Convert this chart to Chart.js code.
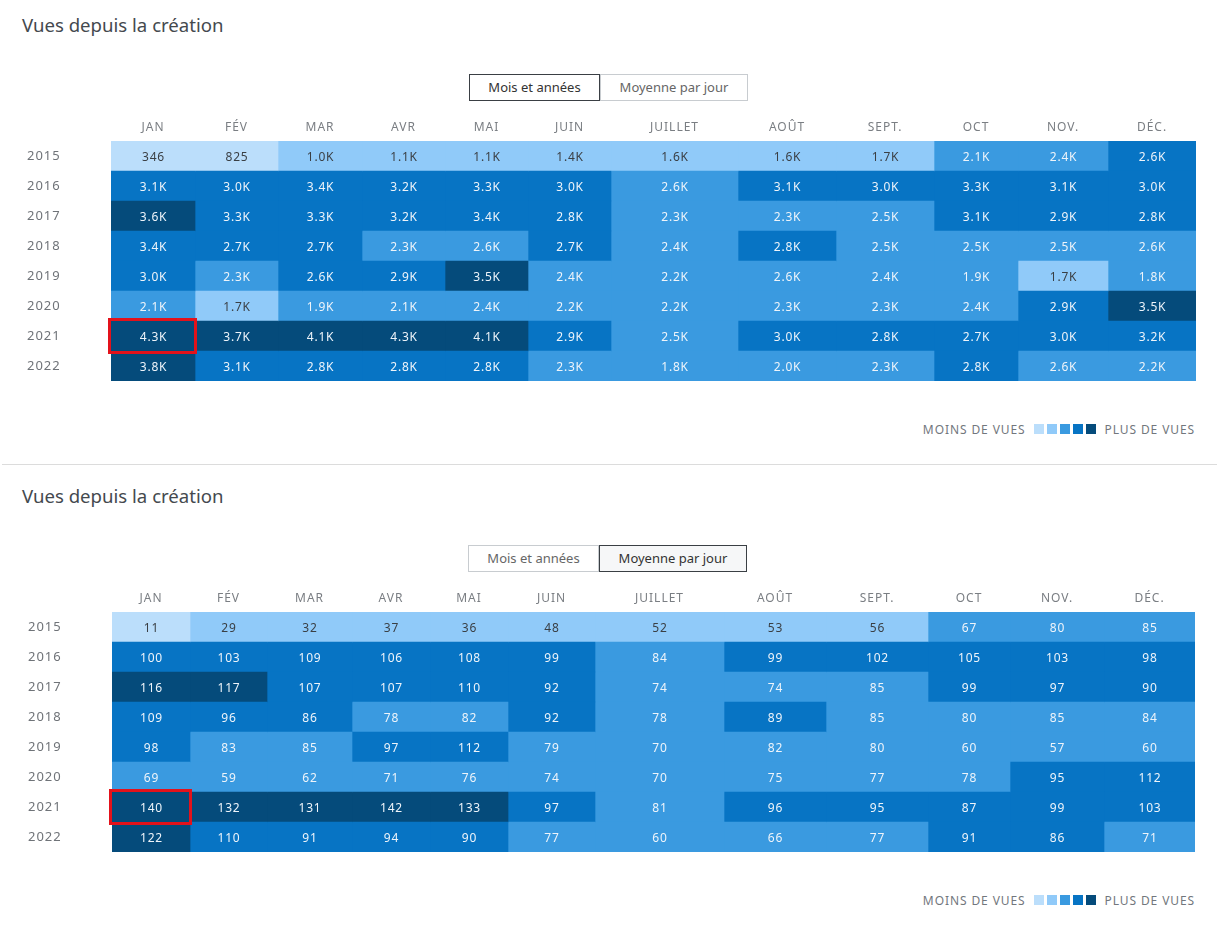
<!DOCTYPE html>
<html lang="fr">
<head>
<meta charset="utf-8">
<title>Vues depuis la création</title>
<script src="https://cdn.jsdelivr.net/npm/chart.js@4.4.1/dist/chart.umd.min.js"></script>
<style>
  body { margin: 0; background: #fff; font-family: 'Noto Sans', sans-serif; }
  .panneau { position: absolute; left: 0; width: 1219px; height: 465px; }
  .panneau h2 { position: absolute; left: 22px; top: 11px; margin: 0; font-size: 18.6px; line-height: 28px; font-weight: 400; color: #44494e; }
  .bascule { position: absolute; left: 469px; top: 74px; display: flex; }
  .bascule span { box-sizing: border-box; height: 27px; line-height: 25px; font-size: 13px; text-align: center; color: #666; border: 1px solid #c8ccd0; background: #fff; }
  .bascule span.on { border-color: #3a3f44; color: #333; }
  .bascule span.b1 { width: 131px; }
  .bascule span.b2 { width: 148px; }
  #p2 .bascule span.on { background: #f6f7f8; }
  canvas { position: absolute; left: 0; top: 100px; }
  .legende { position: absolute; right: 24px; top: 421px; height: 16px; display: flex; align-items: center; font-size: 12px; letter-spacing: 0.9px; color: #72777d; }
  .legende i { display: inline-block; width: 10px; height: 10px; margin-right: 3px; }
  .legende i:first-of-type { margin-left: 8px; }
  .legende i:last-of-type { margin-right: 9px; }
  .sep { position: absolute; left: 2px; top: 464px; width: 1215px; height: 1px; background: #dcdcdc; }
</style>
</head>
<body>

<div class="panneau" id="p1" style="top:0">
  <h2>Vues depuis la création</h2>
  <div class="bascule"><span class="b1 on">Mois et années</span><span class="b2">Moyenne par jour</span></div>
  <canvas id="chartMois" width="1219" height="290"></canvas>
  <div class="legende">MOINS DE VUES <i></i><i></i><i></i><i></i><i></i> PLUS DE VUES</div>
</div>
<div class="sep"></div>
<div class="panneau" id="p2" style="top:471px">
  <h2>Vues depuis la création</h2>
  <div class="bascule" style="left:468px"><span class="b1">Mois et années</span><span class="b2 on">Moyenne par jour</span></div>
  <canvas id="chartJour" width="1219" height="290"></canvas>
  <div class="legende">MOINS DE VUES <i></i><i></i><i></i><i></i><i></i> PLUS DE VUES</div>
</div>

<script>
// donnees
const mois = ['JAN', 'FÉV', 'MAR', 'AVR', 'MAI', 'JUIN', 'JUILLET', 'AOÛT', 'SEPT.', 'OCT', 'NOV.', 'DÉC.'];
const annees = ['2015', '2016', '2017', '2018', '2019', '2020', '2021', '2022'];

// vues par mois
const vues2015 = [346, 825, 1000, 1100, 1100, 1400, 1600, 1600, 1700, 2100, 2400, 2620];
const vues2016 = [3100, 3000, 3400, 3200, 3300, 3000, 2560, 3100, 3000, 3300, 3100, 3000];
const vues2017 = [3600, 3300, 3300, 3200, 3400, 2800, 2300, 2300, 2500, 3100, 2900, 2800];
const vues2018 = [3400, 2700, 2700, 2300, 2560, 2700, 2400, 2800, 2500, 2500, 2500, 2560];
const vues2019 = [3000, 2300, 2620, 2900, 3500, 2400, 2200, 2560, 2400, 1900, 1700, 1800];
const vues2020 = [2100, 1700, 1900, 2100, 2400, 2200, 2200, 2300, 2300, 2400, 2900, 3500];
const vues2021 = [4310, 3700, 4100, 4270, 4100, 2900, 2500, 3000, 2800, 2700, 3000, 3200];
const vues2022 = [3800, 3100, 2800, 2800, 2800, 2300, 1800, 2000, 2300, 2800, 2560, 2200];

// moyenne par jour
const jour2015 = [11, 29, 32, 37, 36, 48, 52, 53, 56, 67, 80, 85];
const jour2016 = [100, 103, 109, 106, 108, 99, 84, 99, 102, 105, 103, 98];
const jour2017 = [116, 117, 107, 107, 110, 92, 74, 74, 85, 99, 97, 90];
const jour2018 = [109, 96, 86, 78, 82, 92, 78, 89, 85, 80, 85, 84];
const jour2019 = [98, 83, 85, 97, 112, 79, 70, 82, 80, 60, 57, 60];
const jour2020 = [69, 59, 62, 71, 76, 74, 70, 75, 77, 78, 95, 112];
const jour2021 = [140, 132, 131, 142, 133, 97, 81, 96, 95, 87, 99, 103];
const jour2022 = [122, 110, 91, 94, 90, 77, 60, 66, 77, 91, 86, 71];

const anneeMarquee = '2021';
const moisMarque = 'JAN';

// mise en page (largeur des colonnes, comme un tableau html)
const largeursMois = [84, 83, 84, 83, 83, 83, 127, 98, 98, 84, 90, 88];
const largeursJour = [78, 77, 85, 78, 78, 87, 129, 102, 102, 82, 94, 91];

const couleurs = ['#bbdefb', '#90caf9', '#3a9ae0', '#0774c4', '#054b7b'];
const police = "'Noto Sans', sans-serif";

document.querySelectorAll('.legende').forEach(l => {
    l.querySelectorAll('i').forEach((c, k) => c.style.background = couleurs[k]);
});

function formatK(v) {
    return v >= 1000 ? (v / 1000).toFixed(1) + 'K' : String(v);
}

const espacement = {
    id: 'espacement',
    beforeDraw(chart) {
        chart.ctx.letterSpacing = '1px';
    }
};

// valeurs dans les cellules + cadre rouge
function etiquettes(format) {
    return {
        id: 'etiquettes',
        afterDatasetsDraw(chart) {
            const ctx = chart.ctx;
            ctx.save();
            ctx.font = '12px ' + police;
            ctx.letterSpacing = '0.8px';
            ctx.textAlign = 'center';
            ctx.textBaseline = 'middle';
            chart.data.datasets.forEach((ds, i) => {
                chart.getDatasetMeta(i).data.forEach((bar, k) => {
                    const { x, y, base } = bar.getProps(['x', 'y', 'base'], true);
                    ctx.fillStyle = ds.niveaux[k] < 2 ? '#3a3f44' : '#eef4fa';
                    ctx.fillText(format(ds.valeurs[k]), (x + base) / 2 + 0.5, y + 1.5);
                });
            });

            const j = mois.indexOf(moisMarque);
            const k = annees.indexOf(anneeMarquee);
            const bar = chart.getDatasetMeta(j).data[k];
            const { x, y, base, height } = bar.getProps(['x', 'y', 'base', 'height'], true);
            ctx.strokeStyle = '#e3121b';
            ctx.lineWidth = 3;
            ctx.strokeRect(base - 1.5, y - height / 2 - 1.5, x - base + 2, height + 3);
            ctx.restore();
        }
    };
}

function heatmap(id, lignes, largeurs, gauche, droite, format) {
    const bords = [0];
    largeurs.forEach(w => bords.push(bords[bords.length - 1] + w));
    const centres = largeurs.map((w, j) => bords[j] + w / 2);
    const max = Math.max(...lignes.flat());
    const niveau = v => Math.min(4, Math.floor(v / (max / 5)));

    return new Chart(document.getElementById(id), {
        type: 'bar',
        data: {
            labels: annees,
            datasets: mois.map((m, j) => ({
                label: m,
                data: lignes.map(() => [bords[j], bords[j + 1]]),
                valeurs: lignes.map(r => r[j]),
                niveaux: lignes.map(r => niveau(r[j])),
                backgroundColor: lignes.map(r => couleurs[niveau(r[j])]),
                borderWidth: 0,
                grouped: false,
                barPercentage: 1,
                categoryPercentage: 1
            }))
        },
        options: {
            responsive: false,
            animation: false,
            indexAxis: 'y',
            layout: { padding: { left: gauche, right: droite, top: 11, bottom: 9 } },
            plugins: { legend: { display: false }, tooltip: { enabled: false } },
            scales: {
                x: {
                    type: 'linear',
                    position: 'top',
                    min: 0,
                    max: bords[bords.length - 1],
                    bounds: 'data',
                    grid: { display: false, drawTicks: false },
                    border: { display: false },
                    afterBuildTicks: s => { s.ticks = centres.map(c => ({ value: c })); },
                    afterFit: s => { s.height = 30; },
                    ticks: {
                        autoSkip: false,
                        maxRotation: 0,
                        padding: 6,
                        color: '#7a7e83',
                        font: { family: police, size: 12 },
                        callback: (v, i) => mois[i]
                    }
                },
                y: {
                    type: 'category',
                    grid: { display: false, drawTicks: false },
                    border: { display: false },
                    afterFit: s => { s.width = 84; },
                    ticks: {
                        crossAlign: 'far',
                        padding: 0,
                        color: '#6f7378',
                        font: { family: police, size: 13 }
                    }
                }
            }
        },
        plugins: [espacement, etiquettes(format)]
    });
}

heatmap('chartMois',
    [vues2015, vues2016, vues2017, vues2018, vues2019, vues2020, vues2021, vues2022],
    largeursMois, 27, 23, formatK);

heatmap('chartJour',
    [jour2015, jour2016, jour2017, jour2018, jour2019, jour2020, jour2021, jour2022],
    largeursJour, 28, 24, v => String(v));
</script>
</body>
</html>
